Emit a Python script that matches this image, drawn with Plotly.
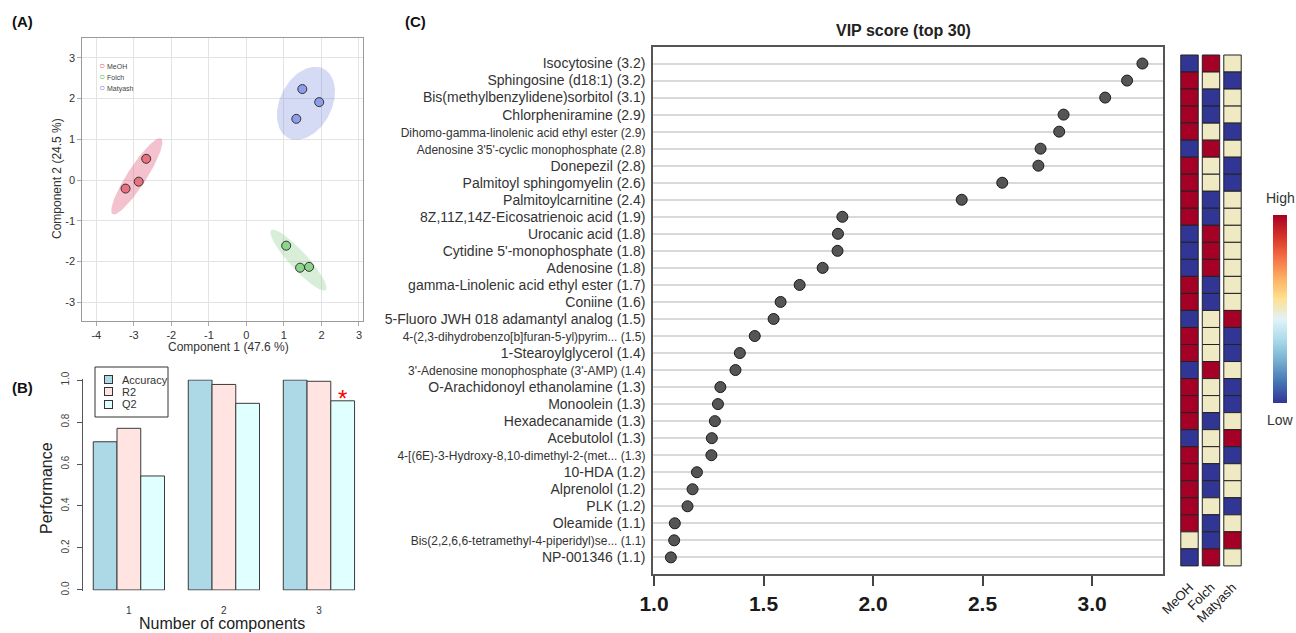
import numpy as np
import plotly.graph_objects as go

W, H = 1296, 633
FONT = "Liberation Sans, Arial, Helvetica, sans-serif"


def px(x):
    return x / W


def py(y):
    return 1 - y / H


# ---------------- Panel A data (PLS-DA scores) ----------------
groups = ["MeOH", "Folch", "Matyash"]
pc1_meoh = [-3.22, -2.87, -2.67]
pc2_meoh = [-0.21, -0.04, 0.52]
pc1_folch = [1.06, 1.43, 1.67]
pc2_folch = [-1.61, -2.15, -2.13]
pc1_matyash = [1.49, 1.94, 1.33]
pc2_matyash = [2.23, 1.91, 1.50]
x_ticks_a = [-4, -3, -2, -1, 0, 1, 2, 3]
y_ticks_a = [-3, -2, -1, 0, 1, 2, 3]

# ---------------- Panel B data (cross validation) ----------------
n_components = [1, 2, 3]
metric_names = ["Accuracy", "R2", "Q2"]
accuracy = [0.706, 1.0, 1.0]
r2 = [0.770, 0.979, 0.994]
q2 = [0.543, 0.889, 0.901]
perf_ticks = [0.0, 0.2, 0.4, 0.6, 0.8, 1.0]

# ---------------- Panel C data (VIP top 30) ----------------
vip_labels = [
    "Isocytosine (3.2)",
    "Sphingosine (d18:1) (3.2)",
    "Bis(methylbenzylidene)sorbitol (3.1)",
    "Chlorpheniramine (2.9)",
    "Dihomo-gamma-linolenic acid ethyl ester (2.9)",
    "Adenosine 3'5'-cyclic monophosphate (2.8)",
    "Donepezil (2.8)",
    "Palmitoyl sphingomyelin (2.6)",
    "Palmitoylcarnitine (2.4)",
    "8Z,11Z,14Z-Eicosatrienoic acid (1.9)",
    "Urocanic acid (1.8)",
    "Cytidine 5'-monophosphate (1.8)",
    "Adenosine (1.8)",
    "gamma-Linolenic acid ethyl ester (1.7)",
    "Coniine (1.6)",
    "5-Fluoro JWH 018 adamantyl analog (1.5)",
    "4-(2,3-dihydrobenzo[b]furan-5-yl)pyrim... (1.5)",
    "1-Stearoylglycerol (1.4)",
    "3'-Adenosine monophosphate (3'-AMP) (1.4)",
    "O-Arachidonoyl ethanolamine (1.3)",
    "Monoolein (1.3)",
    "Hexadecanamide (1.3)",
    "Acebutolol (1.3)",
    "4-[(6E)-3-Hydroxy-8,10-dimethyl-2-(met... (1.3)",
    "10-HDA (1.2)",
    "Alprenolol (1.2)",
    "PLK (1.2)",
    "Oleamide (1.1)",
    "Bis(2,2,6,6-tetramethyl-4-piperidyl)se... (1.1)",
    "NP-001346 (1.1)",
]
vip_scores = [3.23, 3.16, 3.06, 2.87, 2.85, 2.765, 2.755, 2.59, 2.405, 1.86,
              1.84, 1.838, 1.77, 1.665, 1.578, 1.546, 1.46, 1.392, 1.372, 1.303,
              1.292, 1.278, 1.264, 1.262, 1.196, 1.176, 1.153, 1.095, 1.092, 1.077]
vip_ticks = [1.0, 1.5, 2.0, 2.5, 3.0]
# relative group levels: 1 = low, 2 = middle, 3 = high
level_meoh = [1, 3, 3, 3, 3, 1, 3, 3, 3, 3, 1, 1, 1, 3, 3, 1, 3, 3, 1, 3, 3, 3, 1, 3, 3, 3, 3, 3, 2, 1]
level_folch = [3, 2, 1, 1, 2, 3, 2, 2, 1, 1, 3, 3, 3, 1, 1, 2, 2, 2, 3, 2, 2, 1, 2, 2, 1, 1, 2, 1, 1, 3]
level_matyash = [2, 1, 2, 2, 1, 2, 1, 1, 2, 2, 2, 2, 2, 2, 2, 3, 1, 1, 2, 1, 1, 2, 3, 1, 2, 2, 1, 2, 3, 2]

# ---------------- styles ----------------
point_fill = {"MeOH": "#E8707F", "Folch": "#8DD48D", "Matyash": "#8C9DEA"}
ring_col = {"MeOH": "#E9546B", "Folch": "#4DBB4D", "Matyash": "#7383E0"}
ell_fill = {"MeOH": "rgba(224,81,118,0.35)", "Folch": "rgba(125,198,125,0.30)",
            "Matyash": "rgba(115,132,222,0.30)"}
bar_cols = {"Accuracy": "#ADD8E6", "R2": "#FFE4E1", "Q2": "#E0FFFF"}
RDYLBU_R = ["#313695", "#4575B4", "#74ADD1", "#ABD9E9", "#E0F3F8",
            "#FEE090", "#FDAE61", "#F46D43", "#D73027", "#A50026"]
cscale = [[i / (len(RDYLBU_R) - 1), c] for i, c in enumerate(RDYLBU_R)]


def conf_ellipse(x, y, n=140):
    x = np.asarray(x, float)
    y = np.asarray(y, float)
    cov = np.cov(x, y)
    vals, vecs = np.linalg.eigh(cov)
    vals = np.clip(vals, 0, None)
    k = np.sqrt(5.991)  # 95 % chi-square, 2 df
    t = np.linspace(0, 2 * np.pi, n)
    circ = np.vstack([np.cos(t), np.sin(t)])
    pts = vecs @ (np.sqrt(vals)[:, None] * k * circ)
    return x.mean() + pts[0], y.mean() + pts[1]


fig = go.Figure()

# ---------------- Panel A ----------------
score_data = {"MeOH": (pc1_meoh, pc2_meoh), "Folch": (pc1_folch, pc2_folch),
              "Matyash": (pc1_matyash, pc2_matyash)}
for g in groups:
    ex, ey = conf_ellipse(*score_data[g])
    fig.add_trace(go.Scatter(x=ex, y=ey, mode="lines", fill="toself",
                             fillcolor=ell_fill[g], line=dict(width=0),
                             hoverinfo="skip", showlegend=False,
                             xaxis="x", yaxis="y"))
for g in groups:
    sx, sy = score_data[g]
    fig.add_trace(go.Scatter(x=sx, y=sy, mode="markers", name=g,
                             marker=dict(size=9, color=point_fill[g],
                                         line=dict(color="#333333", width=1)),
                             showlegend=False, xaxis="x", yaxis="y"))

# ---------------- Panel B ----------------
metric_data = list(zip(metric_names, [accuracy, r2, q2]))
group_len = len(metric_data) + 1
for k, (name, vals) in enumerate(metric_data):
    xpos = [group_len * (c - 1) + 1.5 + k for c in n_components]
    fig.add_trace(go.Bar(x=xpos, y=vals, width=1, name=name,
                         marker=dict(color=bar_cols[name],
                                     line=dict(color="#3A3A3A", width=1)),
                         xaxis="x2", yaxis="y2", showlegend=False))
best = int(np.argmax(q2))
fig.add_trace(go.Scatter(x=[group_len * (n_components[best] - 1) + 1.5 + 2],
                         y=[q2[best]], mode="text", text=["*"],
                         textposition="middle center",
                         textfont=dict(color="#FF0000", size=24, family=FONT),
                         cliponaxis=False, showlegend=False,
                         xaxis="x2", yaxis="y2"))

# ---------------- Panel C ----------------
rows = list(range(len(vip_labels)))
fig.add_trace(go.Scatter(x=vip_scores, y=rows, mode="markers",
                         marker=dict(size=11, color="#555555",
                                     line=dict(color="#1A1A1A", width=1)),
                         showlegend=False, xaxis="x3", yaxis="y3"))

for j, lv in enumerate([level_meoh, level_folch, level_matyash]):
    fig.add_trace(go.Bar(
        x=[j] * len(lv), y=[1] * len(lv), base=[r - 0.5 for r in rows],
        width=0.81,
        marker=dict(color=lv, colorscale=cscale, cmin=1, cmax=3,
                    line=dict(color="#222222", width=1),
                    showscale=(j == 0),
                    colorbar=dict(thickness=14, thicknessmode="pixels",
                                  len=188 / H, lenmode="fraction",
                                  x=px(1273), xanchor="left",
                                  y=py(309), yanchor="middle",
                                  showticklabels=False, ticks="",
                                  outlinewidth=0, xpad=0, ypad=0)),
        showlegend=False, xaxis="x4", yaxis="y4", hoverinfo="skip"))

tick_text_c = []
for lab in vip_labels:
    if len(lab) > 40:
        tick_text_c.append('<span style="font-size:12px">' + lab + "</span>")
    else:
        tick_text_c.append(lab)

axis_font = dict(family=FONT, color="#333333")

layout = dict(
    width=W, height=H,
    margin=dict(l=0, r=0, t=0, b=0, pad=0, autoexpand=False),
    paper_bgcolor="white", plot_bgcolor="white",
    font=dict(family=FONT, color="#222222"),
    barmode="overlay",
    showlegend=False,
    xaxis=dict(domain=[px(82.3), px(363.3)], range=[-4.373, 3.115],
               tickvals=x_ticks_a, ticktext=[str(v) for v in x_ticks_a],
               showgrid=True, gridcolor="#E3E3E3",
               showline=True, mirror=True, linecolor="#9A9A9A", linewidth=1.2,
               ticks="outside", ticklen=4, tickcolor="#AAAAAA",
               tickfont=dict(size=11, **axis_font), zeroline=False, anchor="y"),
    yaxis=dict(domain=[py(320.7), py(38.3)], range=[-3.45, 3.475],
               tickvals=y_ticks_a, ticktext=[str(v) for v in y_ticks_a],
               showgrid=True, gridcolor="#E3E3E3",
               showline=True, mirror=True, linecolor="#9A9A9A", linewidth=1.2,
               ticks="outside", ticklen=4, tickcolor="#AAAAAA",
               tickfont=dict(size=11, **axis_font), zeroline=False, anchor="x"),
    xaxis2=dict(domain=[px(82.8), px(365)], range=[0.56, 12.44],
                tickvals=[group_len * (c - 1) + 2.5 for c in n_components],
                ticktext=[str(c) for c in n_components],
                showline=False, showgrid=False, zeroline=False, ticks="",
                tickfont=dict(size=10, **axis_font), ticklabelstandoff=12,
                anchor="y2"),
    yaxis2=dict(domain=[py(590.6), py(379.4)], range=[-0.003, 1.003],
                tickvals=perf_ticks, ticktext=[f"{v:.1f}" for v in perf_ticks],
                tickangle=-90, ticks="outside", ticklen=5, tickcolor="#555555",
                showline=True, linecolor="#555555", linewidth=1,
                showgrid=False, zeroline=False,
                tickfont=dict(size=10, family=FONT, color="#444444"),
                ticklabelstandoff=4, anchor="x2"),
    xaxis3=dict(domain=[px(653), px(1163)], range=[0.9954, 3.324],
                tickvals=vip_ticks, ticktext=[f"{v:.1f}" for v in vip_ticks],
                tickfont=dict(size=21, family=FONT, color="#1A1A1A", weight="bold"),
                ticks="outside", ticklen=10, tickwidth=1.5, tickcolor="#444444",
                showline=True, mirror=True, linecolor="#555555", linewidth=1.5,
                showgrid=False, zeroline=False, ticklabelstandoff=0, anchor="y3"),
    yaxis3=dict(domain=[py(574.4), py(46.5)], range=[len(rows), -1],
                tickvals=rows, ticktext=tick_text_c,
                showgrid=True, gridcolor="#D9D9D9", gridwidth=1.5,
                showline=True, mirror=True, linecolor="#555555", linewidth=1.5,
                ticks="", tickfont=dict(size=14, **axis_font), zeroline=False,
                ticklabelstandoff=3, anchor="x3"),
    xaxis4=dict(domain=[px(1178.75), px(1243.25)], range=[-0.5, 2.5],
                tickvals=[0, 1, 2], ticktext=groups, tickangle=-45,
                showgrid=False, showline=False, zeroline=False, ticks="",
                tickfont=dict(size=13, family=FONT, color="#222222"),
                ticklabelstandoff=2, anchor="y4"),
    yaxis4=dict(domain=[py(574.4), py(46.5)], range=[len(rows), -1],
                visible=False, anchor="x4"),
)
fig.update_layout(**layout)

ann = []


def add_text(text, x, y, size, bold=False, angle=0, color="#222222",
             xanchor="center", **extra):
    d = dict(text=("<b>" + text + "</b>") if bold else text,
             x=px(x), y=py(y), xref="paper", yref="paper",
             showarrow=False, textangle=angle, xanchor=xanchor,
             yanchor="middle",
             font=dict(size=size, family=FONT, color=color))
    d.update(extra)
    ann.append(d)


add_text("(A)", 10, 21, 15, bold=True, xanchor="left", color="#111111")
add_text("(B)", 10, 387, 15, bold=True, xanchor="left", color="#111111")
add_text("(C)", 403, 21, 15, bold=True, xanchor="left", color="#111111")
add_text("Component 2 (24.5 %)", 57, 179, 12, angle=-90, color="#333333")
add_text("Component 1 (47.6 %)", 228, 347, 12, color="#333333")
add_text("Performance", 46, 488, 16, angle=-90, color="#222222")
add_text("Number of components", 222, 623, 16, color="#222222")
add_text("VIP score (top 30)", 903.5, 30, 16, bold=True, color="#222222")
add_text("High", 1280, 198, 14, color="#333333")
add_text("Low", 1280, 420, 14, color="#333333")

# Panel A key (one multi-line text block)
key_lines = [f'<span style="color:{ring_col[g]};font-size:10px">○</span>'
             f'<span style="font-size:7px"> {g}</span>' for g in groups]
add_text("<br>".join(key_lines), 97, 76, 8.5, xanchor="left", color="#444444",
         align="left")

# Panel B key: framed box, bordered colour swatches and labels
for i, name in enumerate(metric_names):
    yy = 379.5 + 12.4 * i
    add_text(" ", 108, yy, 1, width=7, height=7, bgcolor=bar_cols[name],
             bordercolor="#333333", borderwidth=1, borderpad=0)
    add_text(name, 120, yy, 11, xanchor="left", color="#333333")

fig.update_layout(
    annotations=ann,
    shapes=[dict(type="rect", xref="paper", yref="paper",
                 x0=px(95), x1=px(168), y0=py(417), y1=py(367),
                 line=dict(color="#333333", width=1), fillcolor="white",
                 layer="below")],
)
fig.write_html(
    "out.html",
    config={"displayModeBar": False},
    post_script=("document.documentElement.style.margin='0';"
                 "document.body.style.margin='0';"
                 "document.body.style.padding='0';"
                 "document.documentElement.style.overflow='hidden';"
                 "document.body.style.overflow='hidden';"),
)
